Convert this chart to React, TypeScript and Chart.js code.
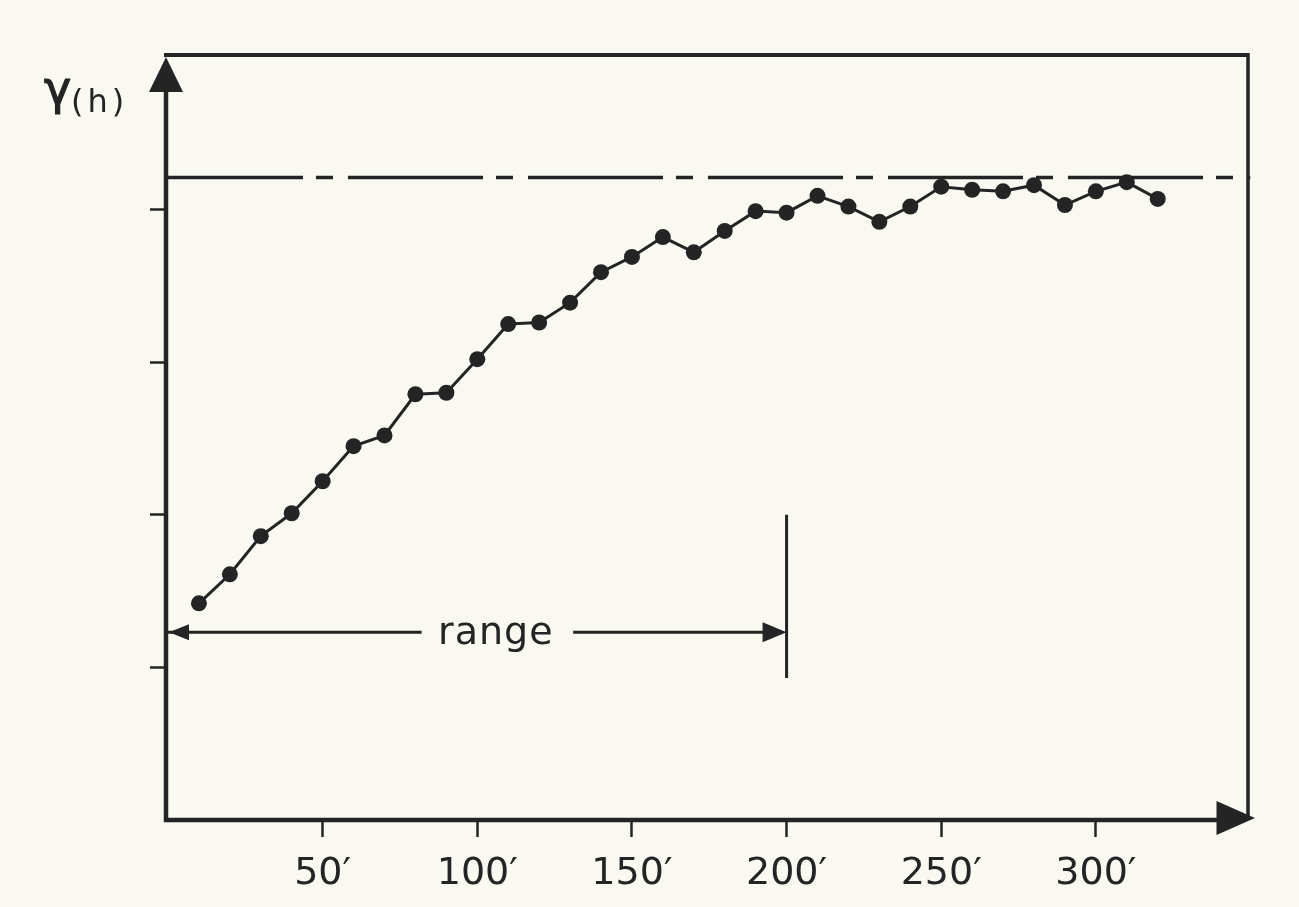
import React, { useEffect, useRef } from "react";
import { Chart, registerables } from "chart.js";

Chart.register(...registerables);

// Experimental semivariogram: lag distance (feet) and gamma(h)
const lagFeet = [
  10, 20, 30, 40, 50, 60, 70, 80, 90, 100, 110, 120, 130, 140, 150, 160,
  170, 180, 190, 200, 210, 220, 230, 240, 250, 260, 270, 280, 290, 300, 310, 320,
];
const gammaValues = [
  1.42, 1.61, 1.86, 2.01, 2.22, 2.45, 2.52, 2.79, 2.8, 3.02, 3.25, 3.26, 3.39, 3.59, 3.69, 3.82,
  3.72, 3.86, 3.99, 3.98, 4.09, 4.02, 3.92, 4.02, 4.15, 4.13, 4.12, 4.16, 4.03, 4.12, 4.18, 4.07,
];
const xTickValues = [50, 100, 150, 200, 250, 300];
const yTickValues = [1, 2, 3, 4];
const sillValue = 4.21;
const rangeFeet = 200;
const rangeArrowLevel = 1.23;
const rangeMarkerSpan = [0.93, 2.0];
const rangeLabelGap = [82, 131];
const rangeLabelAt = 106;
const rangeLabel = "range";
const yTitleSymbol = "γ";
const yTitleArg = "(h)";
const X_MAX = 350;
const Y_MAX = 5;

const INK = "#242424";
const PAPER = "#f9f8f1";
const FONT = "'DejaVu Sans', sans-serif";

function triangle(ctx: CanvasRenderingContext2D, tip: [number, number], base: [number, number], half: number) {
  const dx = tip[0] - base[0];
  const dy = tip[1] - base[1];
  const len = Math.hypot(dx, dy) || 1;
  const nx = -dy / len;
  const ny = dx / len;
  ctx.beginPath();
  ctx.moveTo(tip[0], tip[1]);
  ctx.lineTo(base[0] + nx * half, base[1] + ny * half);
  ctx.lineTo(base[0] - nx * half, base[1] - ny * half);
  ctx.closePath();
  ctx.fill();
}

// Box frame, axis arrows, range arrowheads and labels
const framePlugin = {
  id: "frameAndNotes",
  beforeDatasetsDraw(chart: any) {
    const { ctx, chartArea: a } = chart;
    ctx.save();
    ctx.strokeStyle = INK;
    ctx.fillStyle = INK;
    ctx.lineCap = "butt";
    const axisX = a.left - 2;
    // top and right sides of the box
    ctx.lineWidth = 4;
    ctx.beginPath();
    ctx.moveTo(axisX - 2, a.top - 2);
    ctx.lineTo(a.right - 2.5, a.top - 2);
    ctx.stroke();
    ctx.lineWidth = 3.5;
    ctx.beginPath();
    ctx.moveTo(a.right - 2.5, a.top - 4);
    ctx.lineTo(a.right - 2.5, a.bottom);
    ctx.stroke();
    // axes
    ctx.lineWidth = 4.5;
    ctx.beginPath();
    ctx.moveTo(axisX, a.bottom + 2);
    ctx.lineTo(axisX, a.top + 20);
    ctx.stroke();
    ctx.beginPath();
    ctx.moveTo(axisX - 2, a.bottom);
    ctx.lineTo(a.right - 10, a.bottom);
    ctx.stroke();
    triangle(ctx, [axisX, a.top], [axisX, a.top + 35], 17);
    triangle(ctx, [a.right + 4.5, a.bottom - 2], [a.right - 34, a.bottom - 2], 17);
    ctx.restore();
  },
  afterDatasetsDraw(chart: any) {
    const { ctx, scales } = chart;
    const x = scales.x;
    const y = scales.y;
    ctx.save();
    ctx.fillStyle = INK;
    ctx.strokeStyle = INK;
    const yr = y.getPixelForValue(rangeArrowLevel);
    triangle(ctx, [x.getPixelForValue(0) + 1, yr], [x.getPixelForValue(0) + 21, yr], 8);
    triangle(ctx, [x.getPixelForValue(rangeFeet), yr], [x.getPixelForValue(rangeFeet) - 24, yr], 10);
    // range label
    ctx.font = `38px ${FONT}`;
    ctx.textAlign = "center";
    ctx.textBaseline = "alphabetic";
    (ctx as any).letterSpacing = "1px";
    ctx.fillText(rangeLabel, x.getPixelForValue(rangeLabelAt), yr + 12);
    // y-axis title
    (ctx as any).letterSpacing = "0px";
    ctx.textAlign = "left";
    ctx.font = `46px ${FONT}`;
    ctx.lineWidth = 1.2;
    ctx.fillText(yTitleSymbol, 44, 104);
    ctx.strokeText(yTitleSymbol, 44, 104);
    ctx.font = `32px ${FONT}`;
    (ctx as any).letterSpacing = "4px";
    ctx.fillText(yTitleArg, 71, 112);
    ctx.restore();
  },
};

export default function App() {
  const canvasRef = useRef<HTMLCanvasElement | null>(null);

  useEffect(() => {
    const canvas = canvasRef.current;
    if (!canvas) return;
    const points = lagFeet.map((h, i) => ({ x: h, y: gammaValues[i] }));
    const chart = new Chart(canvas, {
      type: "scatter",
      data: {
        datasets: [
          {
            label: "gamma",
            data: points,
            showLine: true,
            borderColor: INK,
            borderWidth: 3,
            pointRadius: 8,
            pointBackgroundColor: INK,
            pointBorderWidth: 0,
          },
          {
            label: "sill",
            data: [
              { x: 0, y: sillValue },
              { x: X_MAX, y: sillValue },
            ],
            showLine: true,
            borderColor: INK,
            borderWidth: 3.5,
            borderDash: [135, 13, 17, 15],
            pointRadius: 0,
          },
          {
            label: "range left",
            data: [
              { x: 0, y: rangeArrowLevel },
              { x: rangeLabelGap[0], y: rangeArrowLevel },
            ],
            showLine: true,
            borderColor: INK,
            borderWidth: 3,
            pointRadius: 0,
          },
          {
            label: "range right",
            data: [
              { x: rangeLabelGap[1], y: rangeArrowLevel },
              { x: rangeFeet - 5, y: rangeArrowLevel },
            ],
            showLine: true,
            borderColor: INK,
            borderWidth: 3,
            pointRadius: 0,
          },
          {
            label: "range marker",
            data: [
              { x: rangeFeet, y: rangeMarkerSpan[0] },
              { x: rangeFeet, y: rangeMarkerSpan[1] },
            ],
            showLine: true,
            borderColor: INK,
            borderWidth: 3,
            pointRadius: 0,
          },
        ],
      },
      options: {
        responsive: false,
        animation: false,
        events: [],
        layout: { padding: { left: 0, right: 48.5, top: 57, bottom: 0 } },
        plugins: { legend: { display: false }, tooltip: { enabled: false } },
        scales: {
          x: {
            type: "linear",
            min: 0,
            max: X_MAX,
            border: { display: false },
            grid: { drawOnChartArea: false, drawTicks: true, tickLength: 17, tickWidth: 2.5, tickColor: INK },
            afterBuildTicks: (scale: any) => {
              scale.ticks = xTickValues.map((v) => ({ value: v }));
            },
            afterFit: (scale: any) => {
              scale.height = 87;
            },
            ticks: {
              color: INK,
              padding: 14,
              maxRotation: 0,
              autoSkip: false,
              font: { family: FONT, size: 38 },
              callback: (v: any) => `${v}′`,
            },
          },
          y: {
            type: "linear",
            min: 0,
            max: Y_MAX,
            border: { display: false },
            grid: { drawOnChartArea: false, drawTicks: true, tickLength: 18, tickWidth: 2.5, tickColor: INK },
            afterBuildTicks: (scale: any) => {
              scale.ticks = yTickValues.map((v) => ({ value: v }));
            },
            afterFit: (scale: any) => {
              scale.width = 168;
            },
            ticks: { display: false },
          },
        },
      },
      plugins: [framePlugin],
    });
    return () => chart.destroy();
  }, []);

  return (
    <div style={{ position: "absolute", left: 0, top: 0, width: 1299, height: 907, background: PAPER }}>
      <canvas ref={canvasRef} width={1299} height={907} style={{ display: "block" }} />
    </div>
  );
}
